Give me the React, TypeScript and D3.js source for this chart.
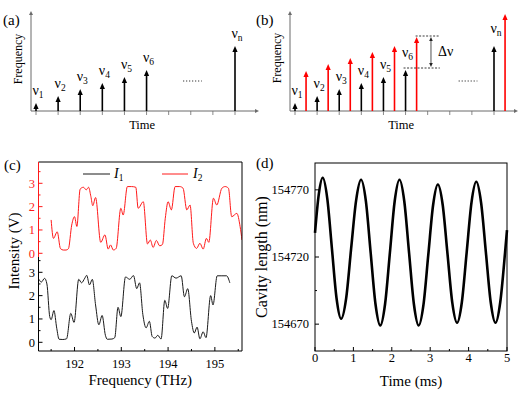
import React from "react";
import * as d3 from "d3";

const FONT = "'Liberation Serif', 'Times New Roman', serif";

// (a) and (b): pulse trains on a time / frequency sketch
const slotIndex = [1, 2, 3, 4, 5, 6, 7, 8, 9, 10];
const pulseIndex = [1, 2, 3, 4, 5, 6, 10];
const pulseNames = ["1", "2", "3", "4", "5", "6", "n"];
const probeHeights = [8, 15, 22, 28, 34, 41, 65];
const shiftedHeights = [40, 47, 53, 59, 65, 74, 97];

// (c): interferometer outputs
const freqTicks = [192, 193, 194, 195];
const voltTicks = [0, 1, 2, 3];
const i1Freq = [191.24, 191.29, 191.36, 191.41, 191.47, 191.5, 191.56, 191.62, 191.67, 191.75, 191.83, 191.92, 191.99, 192.09, 192.15, 192.22, 192.26, 192.32, 192.38, 192.45, 192.52, 192.59, 192.66, 192.7, 192.8, 192.86, 192.93, 192.99, 193.09, 193.18, 193.26, 193.33, 193.39, 193.46, 193.53, 193.6, 193.66, 193.72, 193.78, 193.85, 193.93, 193.99, 194.08, 194.17, 194.28, 194.35, 194.42, 194.5, 194.56, 194.62, 194.68, 194.75, 194.81, 194.91, 194.96, 195.05, 195.15, 195.25, 195.32];
const i1Volt = [2.7, 2.58, 2.74, 2.5, 1.1, 0.97, 1.36, 0.6, 0.13, 0.12, 0.15, 1.24, 0.85, 2.7, 2.55, 2.75, 2.87, 2.46, 2.7, 1.6, 0.75, 1.15, 0.3, 0.13, 0.14, 0.2, 1.5, 1.1, 2.8, 2.7, 2.86, 2.3, 2.55, 1.2, 0.62, 0.9, 0.25, 0.18, 0.3, 0.14, 1.8, 1.45, 2.85, 2.75, 2.85, 1.95, 2.3, 0.9, 0.4, 0.65, 0.15, 0.45, 0.2, 2.0, 1.6, 2.85, 2.85, 2.85, 2.55];
const i2Freq = [191.5, 191.55, 191.63, 191.7, 191.76, 191.82, 191.87, 191.94, 192.0, 192.05, 192.12, 192.19, 192.25, 192.3, 192.35, 192.39, 192.45, 192.56, 192.65, 192.72, 192.77, 192.83, 192.89, 192.99, 193.04, 193.13, 193.22, 193.31, 193.36, 193.47, 193.56, 193.62, 193.68, 193.75, 193.82, 193.88, 193.94, 194.0, 194.07, 194.15, 194.25, 194.32, 194.4, 194.47, 194.54, 194.61, 194.68, 194.75, 194.82, 194.87, 194.97, 195.04, 195.15, 195.22, 195.29, 195.36, 195.47, 195.54, 195.58];
const i2Volt = [1.43, 0.64, 0.92, 0.2, 0.14, 0.14, 0.2, 1.21, 1.57, 1.15, 2.75, 2.83, 2.72, 2.83, 2.43, 2.04, 2.39, 0.47, 0.79, 0.18, 0.36, 0.14, 0.21, 1.93, 1.64, 2.86, 2.86, 2.83, 1.93, 2.21, 0.4, 0.57, 0.25, 0.55, 0.32, 0.38, 1.5, 2.21, 1.86, 2.86, 2.86, 2.79, 1.86, 2.07, 0.43, 0.21, 0.43, 0.18, 0.64, 0.47, 2.36, 2.07, 2.79, 2.86, 2.79, 1.57, 1.71, 1.14, 0.57];

// (d): cavity length over time
const timeTicks = [0, 1, 2, 3, 4, 5];
const lengthTicks = [154670, 154720, 154770];
const timeMs = [0, 0.1, 0.2, 0.32, 0.44, 0.56, 0.68, 0.81, 0.94, 1.07, 1.2, 1.325, 1.45, 1.575, 1.7, 1.825, 1.95, 2.075, 2.2, 2.325, 2.45, 2.575, 2.7, 2.825, 2.95, 3.075, 3.2, 3.325, 3.45, 3.575, 3.7, 3.825, 3.95, 4.075, 4.2, 4.325, 4.45, 4.575, 4.7, 4.825, 4.95, 5.0];
const cavityNm = [154738, 154767, 154779, 154763.5, 154726.5, 154689.5, 154674, 154689, 154726, 154762, 154777.5, 154761.6, 154723, 154685, 154669, 154685, 154723, 154761.5, 154777.5, 154761.5, 154723, 154685, 154669, 154684.5, 154721.5, 154758.5, 154774, 154758.9, 154722.5, 154686, 154671, 154686.5, 154723.5, 154760.5, 154776, 154760.5, 154723.5, 154686.5, 154671, 154686.5, 154723.5, 154740];

const AXIS_GREY = "#6b6b6b";

function Pulse({ x, base, tip, color }: { x: number; base: number; tip: number; color: string }) {
  return (
    <g>
      <line x1={x} x2={x} y1={base} y2={tip + 4} stroke={color} strokeWidth={1.6} />
      <path d={`M${x - 2.6},${tip + 6}L${x},${tip}L${x + 2.6},${tip + 6}Z`} fill={color} />
    </g>
  );
}

function Nu({ x, y, sub }: { x: number; y: number; sub: string }) {
  return (
    <text x={x} y={y} fontSize={14} fontFamily={FONT} textAnchor="middle">
      ν<tspan fontSize={9.5} dy={3}>{sub}</tspan>
    </text>
  );
}

function SketchAxes({ x0, x1, y0, y1, xs, slots }: any) {
  return (
    <g stroke={AXIS_GREY} fill={AXIS_GREY}>
      <line x1={x0} x2={x0} y1={y0} y2={y1 + 3} strokeWidth={1} />
      <path d={`M${x0 - 2},${y1 + 4}L${x0},${y1}L${x0 + 2},${y1 + 4}Z`} stroke="none" />
      <line x1={x0} x2={x1 - 3} y1={y0} y2={y0} strokeWidth={1} />
      <path d={`M${x1 - 4},${y0 - 2}L${x1},${y0}L${x1 - 4},${y0 + 2}Z`} stroke="none" />
      {slots.map((s: number) => (
        <line key={s} x1={xs(s)} x2={xs(s)} y1={y0} y2={y0 + 4} strokeWidth={0.8} />
      ))}
    </g>
  );
}

function PanelA() {
  const x = d3.scaleLinear().domain([1, 10]).range([36, 235]);
  const y = d3.scaleLinear().domain([0, 100]).range([111, 11]);
  return (
    <g>
      <text x={3} y={25} fontSize={15} fontFamily={FONT}>(a)</text>
      <SketchAxes x0={31} x1={259} y0={y(0)} y1={y(100)} xs={x} slots={slotIndex} />
      {pulseIndex.map((s, i) => (
        <g key={s}>
          <Pulse x={x(s)} base={y(0)} tip={y(probeHeights[i])} color="#000" />
          <Nu x={x(s) + 2} y={y(probeHeights[i]) - 8} sub={pulseNames[i]} />
        </g>
      ))}
      <line x1={x(7.65)} x2={x(8.5)} y1={y(30)} y2={y(30)} stroke="#333" strokeWidth={1} strokeDasharray="1.2,1.8" />
      <text x={x(5.8)} y={129} fontSize={12.5} fontFamily={FONT} textAnchor="middle">Time</text>
      <text transform={`translate(22,${y(52)}) rotate(-90)`} fontSize={12} fontFamily={FONT} textAnchor="middle">Frequency</text>
    </g>
  );
}

function PanelB() {
  const x = d3.scaleLinear().domain([1, 10]).range([295, 494]);
  const y = d3.scaleLinear().domain([0, 100]).range([111, 11]);
  const red = "#ff0000";
  const k = 5;
  const topY = y(shiftedHeights[k]) - 1;
  const lowY = y(probeHeights[k]) - 2;
  const ax = x(7.15);
  return (
    <g>
      <text x={256} y={25} fontSize={15} fontFamily={FONT}>(b)</text>
      <SketchAxes x0={290} x1={518} y0={y(0)} y1={y(100)} xs={x} slots={slotIndex} />
      {pulseIndex.map((s, i) => (
        <g key={s}>
          <Pulse x={x(s)} base={y(0)} tip={y(probeHeights[i])} color="#000" />
          <Pulse x={x(s + 0.5)} base={y(0)} tip={y(shiftedHeights[i])} color={red} />
          <Nu
            x={x(s) + 2}
            y={y(probeHeights[i]) - (i === 5 || i === 6 ? 13 : 8)}
            sub={pulseNames[i]}
          />
        </g>
      ))}
      <line x1={x(6.5) - 1} x2={x(7.55)} y1={topY} y2={topY} stroke="#222" strokeWidth={0.9} strokeDasharray="2,1.5" />
      <line x1={x(6) - 2} x2={x(7.55)} y1={lowY} y2={lowY} stroke="#222" strokeWidth={0.9} strokeDasharray="2,1.5" />
      <line x1={ax} x2={ax} y1={topY + 4} y2={lowY - 4} stroke="#222" strokeWidth={0.8} />
      <path d={`M${ax - 1.8},${topY + 5}L${ax},${topY + 1}L${ax + 1.8},${topY + 5}Z`} fill="#222" />
      <path d={`M${ax - 1.8},${lowY - 5}L${ax},${lowY - 1}L${ax + 1.8},${lowY - 5}Z`} fill="#222" />
      <text x={ax + 7} y={(topY + lowY) / 2 + 4} fontSize={14} fontFamily={FONT}>Δν</text>
      <line x1={x(8.4)} x2={x(9.25)} y1={y(30)} y2={y(30)} stroke="#333" strokeWidth={1} strokeDasharray="1.2,1.8" />
      <text x={x(5.8)} y={129} fontSize={12.5} fontFamily={FONT} textAnchor="middle">Time</text>
      <text transform={`translate(281,${y(53)}) rotate(-90)`} fontSize={12} fontFamily={FONT} textAnchor="middle">Frequency</text>
    </g>
  );
}

function PanelC() {
  const left = 38.5, right = 242, top = 162, bottom = 351, split = 257;
  const x = d3.scaleLinear().domain([191.23, 195.58]).range([left, right]);
  const yRed = d3.scaleLinear().domain([0, 3]).range([253.3, 183.3]);
  const yBlk = d3.scaleLinear().domain([0, 3]).range([342.3, 272.3]);
  const red = "#ff1a1a";
  const line1 = d3.line<number>().x((_, i) => x(i1Freq[i])).y((v) => yBlk(v)).curve(d3.curveMonotoneX);
  const line2 = d3.line<number>().x((_, i) => x(i2Freq[i])).y((v) => yRed(v)).curve(d3.curveMonotoneX);
  const minorX = d3.range(191.5, 195.6, 1);
  const minorV = [0.5, 1.5, 2.5, 3.5];
  return (
    <g fontFamily={FONT}>
      <text x={4} y={170} fontSize={15}>(c)</text>
      <clipPath id="clipC">
        <rect x={left} y={top} width={right - left} height={bottom - top} />
      </clipPath>
      <g clipPath="url(#clipC)" fill="none">
        <path d={line1(i1Volt) ?? ""} stroke="#1a1a1a" strokeWidth={1} />
        <path d={line2(i2Volt) ?? ""} stroke={red} strokeWidth={1} />
      </g>
      <path d={`M${left},${top}H${right}V${bottom}H${left}`} fill="none" stroke="#000" strokeWidth={1} />
      <line x1={left} x2={left} y1={top} y2={split} stroke={red} strokeWidth={1} />
      <line x1={left} x2={left} y1={split} y2={bottom} stroke="#000" strokeWidth={1} />
      {freqTicks.map((t) => (
        <g key={t}>
          <line x1={x(t)} x2={x(t)} y1={bottom} y2={bottom - 4} stroke="#000" />
          <text x={x(t)} y={368} fontSize={12.5} textAnchor="middle">{t}</text>
        </g>
      ))}
      {minorX.map((t) => (
        <line key={t} x1={x(t)} x2={x(t)} y1={bottom} y2={bottom - 2} stroke="#000" />
      ))}
      {voltTicks.map((t) => (
        <g key={t}>
          <line x1={left} x2={left + 4} y1={yRed(t)} y2={yRed(t)} stroke={red} />
          <text x={35} y={yRed(t) + 4.3} fontSize={12.5} textAnchor="end" fill={red}>{t}</text>
          <line x1={left} x2={left + 4} y1={yBlk(t)} y2={yBlk(t)} stroke="#000" />
          <text x={35} y={yBlk(t) + 4.3} fontSize={12.5} textAnchor="end">{t}</text>
        </g>
      ))}
      {minorV.map((t) => (
        <g key={t}>
          {yRed(t) > top && <line x1={left} x2={left + 2} y1={yRed(t)} y2={yRed(t)} stroke={red} />}
          {yBlk(t) > split && <line x1={left} x2={left + 2} y1={yBlk(t)} y2={yBlk(t)} stroke="#000" />}
        </g>
      ))}
      <line x1={83} x2={110} y1={174} y2={174} stroke="#1a1a1a" strokeWidth={1} />
      <text x={114} y={178} fontSize={14} fontStyle="italic">I<tspan fontSize={9.5} dy={3} fontStyle="normal">1</tspan></text>
      <line x1={162} x2={188} y1={174} y2={174} stroke={red} strokeWidth={1} />
      <text x={193} y={178} fontSize={14} fontStyle="italic">I<tspan fontSize={9.5} dy={3} fontStyle="normal">2</tspan></text>
      <text x={(left + right) / 2} y={385} fontSize={15} textAnchor="middle">Frequency (THz)</text>
      <text transform={`translate(19,251) rotate(-90)`} fontSize={15} textAnchor="middle">Intensity (V)</text>
    </g>
  );
}

function PanelD() {
  const left = 315, right = 507, top = 163, bottom = 351;
  const x = d3.scaleLinear().domain([0, 5]).range([left, right]);
  const y = d3.scaleLinear().domain([154650, 154790]).range([bottom, top]);
  const line = d3.line<number>().x((_, i) => x(timeMs[i])).y((v) => y(v)).curve(d3.curveMonotoneX);
  const minorX = d3.range(0.5, 5, 1);
  const minorY = [154695, 154745];
  return (
    <g fontFamily={FONT}>
      <text x={256} y={168} fontSize={15}>(d)</text>
      <rect x={left} y={top} width={right - left} height={bottom - top} fill="none" stroke="#000" strokeWidth={1} />
      <path d={line(cavityNm) ?? ""} fill="none" stroke="#000" strokeWidth={2.6} />
      {timeTicks.map((t) => (
        <g key={t}>
          <line x1={x(t)} x2={x(t)} y1={bottom} y2={bottom - 4} stroke="#000" />
          <text x={x(t)} y={362} fontSize={12.5} textAnchor="middle">{t}</text>
        </g>
      ))}
      {minorX.map((t) => (
        <line key={t} x1={x(t)} x2={x(t)} y1={bottom} y2={bottom - 2} stroke="#000" />
      ))}
      {lengthTicks.map((t) => (
        <g key={t}>
          <line x1={left} x2={left + 4} y1={y(t)} y2={y(t)} stroke="#000" />
          <text x={309} y={y(t) + 4.3} fontSize={12.5} textAnchor="end">{t}</text>
        </g>
      ))}
      {minorY.map((t) => (
        <line key={t} x1={left} x2={left + 2} y1={y(t)} y2={y(t)} stroke="#000" />
      ))}
      <text x={(left + right) / 2} y={386} fontSize={15} textAnchor="middle">Time (ms)</text>
      <text transform={`translate(267,257) rotate(-90)`} fontSize={16} textAnchor="middle">Cavity length (nm)</text>
    </g>
  );
}

export default function App() {
  return (
    <svg
      width={530}
      height={393}
      style={{ position: "absolute", left: 0, top: 0, background: "#fff" }}
    >
      <PanelA />
      <PanelB />
      <PanelC />
      <PanelD />
    </svg>
  );
}
